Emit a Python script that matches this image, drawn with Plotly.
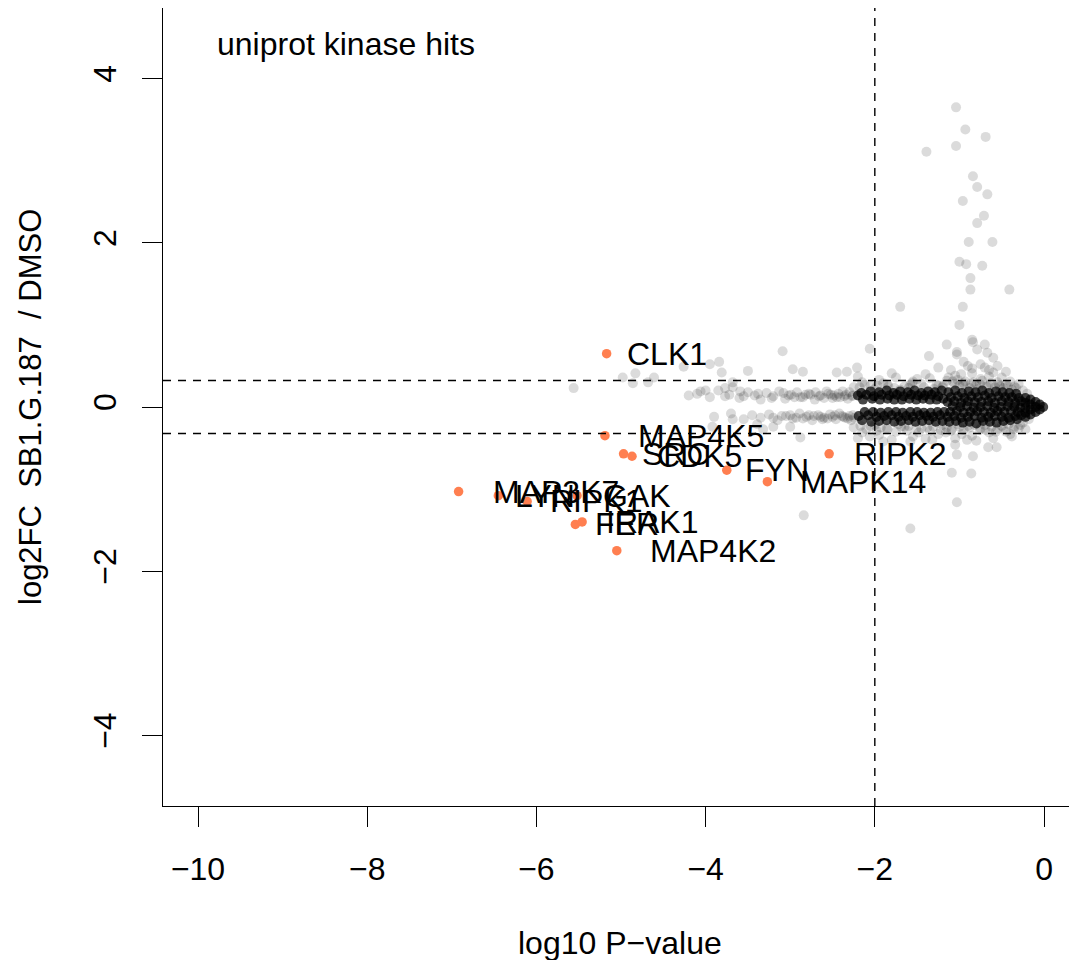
import plotly.graph_objects as go

# labelled kinase hits (orange)
hit_names = ["CLK1", "MAP4K5", "SRC", "CDK5", "FYN", "MAPK14", "RIPK2",
             "MAP3K7", "LYN", "RIPK1", "GAK", "FER", "IRAK1", "MAP4K2"]
hit_x = [-5.17, -5.19, -4.97, -4.87, -3.75, -3.27, -2.54,
         -6.92, -6.45, -6.11, -5.52, -5.54, -5.46, -5.05]
hit_y = [0.65, -0.35, -0.57, -0.60, -0.77, -0.91, -0.57,
         -1.03, -1.08, -1.15, -1.08, -1.43, -1.40, -1.75]
label_x = [-4.95, -4.82, -4.78, -4.60, -3.56, -2.91, -2.27,
           -6.54, -6.28, -5.86, -5.24, -5.33, -5.20, -4.68]

# all other proteins, sparse part (light grey)
grey_x = [
    # high fold change tail
    -1.04, -0.93, -0.69, -1.04, -1.39, -0.84, -0.79, -0.67, -0.96, -0.71, -0.79, -0.89,
    -0.61, -1.00, -0.92, -0.73, -0.87, -0.87, -0.41, -1.70, -0.96, -1.00, -0.85, -1.15,
    -1.03, -1.03, -0.84, -0.70, -0.79, -0.67, -0.60, -1.36, -2.06, -3.09,
    -0.95, -0.75, -0.55, -0.85, -0.65, -1.25, -0.45,
    # left, upper
    -5.56, -4.98, -4.83, -4.86, -4.68, -4.61, -4.26, -3.95, -3.84, -4.20, -4.06, -4.00,
    -3.81, -3.68, -3.77, -3.68, -3.59, -3.77, -3.50, -2.97, -2.85, -2.45, -2.33, -2.21,
    # left, lower
    -3.92, -3.68, -3.39, -3.32, -3.20, -3.00, -2.88,
    # lower right
    -2.06, -1.90, -1.58, -1.32, -1.05, -0.91, -0.66, -0.56, -0.38, -0.22, -1.03, -0.84,
    -1.09, -0.86, -1.03, -1.58, -2.84,
    # upper halo
    -2.25, -2.15, -2.05, -1.95, -1.85, -1.75, -1.65, -1.55, -1.45, -1.35, -1.25, -1.15,
    -1.05, -0.95, -0.85, -0.75, -0.65, -0.55, -0.45, -0.35, -0.25,
    -2.20, -2.00, -1.80, -1.60, -1.40, -1.20, -1.10, -1.00, -0.90, -0.80, -0.70, -0.60,
    -0.50, -0.40, -0.30,
    -1.90, -1.70, -1.50, -1.30, -1.08, -0.98, -0.88, -0.78, -0.68, -0.58, -0.48, -0.38,
    -2.12, -1.84, -1.56, -1.27, -1.13, -1.02, -0.93, -0.83, -0.73, -0.63, -0.53, -0.43,
    -2.18, -1.97, -1.77, -1.58, -1.42, -1.19, -1.06, -0.96, -0.86, -0.76, -0.66, -0.52,
    -0.33, -0.20,
    # lower halo
    -2.25, -2.15, -2.05, -1.95, -1.85, -1.75, -1.65, -1.55, -1.45, -1.35, -1.25, -1.15,
    -1.05, -0.95, -0.85, -0.75, -0.65, -0.55, -0.45, -0.35, -0.25,
    -2.20, -2.00, -1.80, -1.60, -1.40, -1.20, -1.10, -1.00, -0.90, -0.80, -0.70, -0.60,
    -0.50, -0.40, -0.30,
    -1.98, -1.72, -1.48, -1.22, -1.02, -0.82, -0.62, -0.42,
    -2.10, -1.86, -1.62, -1.38, -1.16, -0.97, -0.76, -0.57, -0.36,
    -2.17, -1.93, -1.69, -1.51, -1.31, -1.09, -0.88, -0.69, -0.48, -0.28, -0.18,
    # upper stream
    -4.10, -3.95, -3.85, -3.72, -3.60, -3.50, -3.42, -3.35, -3.28, -3.20, -3.13, -3.06,
    -2.99, -2.92, -2.85, -2.78, -2.71, -2.64, -2.57, -2.50, -2.43, -2.36, -2.30,
    -3.55, -3.38, -3.22, -3.08, -2.95, -2.82, -2.70, -2.60, -2.52, -2.45, -2.38, -2.32,
    -2.26,
    -3.02, -2.88, -2.76, -2.66, -2.55, -2.48, -2.41, -2.34, -2.27,
    # lower stream
    -3.90, -3.70, -3.55, -3.45, -3.35, -3.25, -3.15, -3.05, -2.97, -2.89, -2.81, -2.74,
    -2.67, -2.60, -2.53, -2.46, -2.39, -2.32, -2.26,
    -3.20, -3.00, -2.85, -2.72, -2.62, -2.50, -2.42, -2.35, -2.28,
    -3.10, -2.93, -2.78, -2.64, -2.56, -2.47, -2.37, -2.30, -2.24,
]
grey_y = [
    3.65, 3.38, 3.29, 3.18, 3.11, 2.81, 2.68, 2.59, 2.51, 2.33, 2.24, 2.01,
    2.01, 1.77, 1.74, 1.72, 1.57, 1.43, 1.43, 1.22, 1.22, 1.00, 0.82, 0.76,
    0.67, 0.64, 0.79, 0.76, 0.70, 0.66, 0.60, 0.62, 0.71, 0.68,
    0.55, 0.52, 0.50, 0.47, 0.45, 0.48, 0.43,
    0.23, 0.36, 0.41, 0.29, 0.30, 0.36, 0.49, 0.52, 0.55, 0.14, 0.19, 0.20,
    0.42, 0.30, 0.23, 0.24, 0.19, 0.13, 0.44, 0.46, 0.43, 0.42, 0.43, 0.48,
    -0.24, -0.15, -0.21, -0.27, -0.24, -0.24, -0.37,
    -0.36, -0.42, -0.42, -0.40, -0.46, -0.40, -0.49, -0.49, -0.36, -0.27, -0.58, -0.60,
    -0.80, -0.81, -1.16, -1.48, -1.32,
    0.24, 0.30, 0.26, 0.33, 0.27, 0.36, 0.25, 0.31, 0.28, 0.35, 0.26, 0.32,
    0.38, 0.29, 0.41, 0.34, 0.37, 0.30, 0.27, 0.25, 0.20,
    0.37, 0.22, 0.41, 0.23, 0.40, 0.24, 0.45, 0.26, 0.50, 0.27, 0.48, 0.42,
    0.36, 0.31, 0.28,
    0.29, 0.21, 0.34, 0.22, 0.31, 0.40, 0.23, 0.22, 0.25, 0.24, 0.23, 0.21,
    0.27, 0.25, 0.29, 0.27, 0.36, 0.33, 0.31, 0.30, 0.32, 0.29, 0.27, 0.26,
    0.24, 0.26, 0.23, 0.27, 0.24, 0.26, 0.28, 0.27, 0.29, 0.28, 0.26, 0.25,
    0.23, 0.16,
    -0.25, -0.31, -0.23, -0.34, -0.27, -0.30, -0.24, -0.36, -0.26, -0.29, -0.33, -0.25,
    -0.38, -0.28, -0.35, -0.26, -0.31, -0.27, -0.30, -0.24, -0.19,
    -0.38, -0.22, -0.40, -0.23, -0.39, -0.22, -0.29, -0.24, -0.23, -0.41, -0.22, -0.38,
    -0.23, -0.33, -0.26,
    -0.29, -0.21, -0.31, -0.28, -0.21, -0.22, -0.24, -0.21,
    -0.27, -0.26, -0.29, -0.25, -0.31, -0.33, -0.28, -0.30, -0.27,
    -0.23, -0.25, -0.24, -0.26, -0.24, -0.27, -0.25, -0.28, -0.25, -0.22, -0.15,
    0.16, 0.12, 0.20, 0.15, 0.11, 0.18, 0.14, 0.09, 0.17, 0.13, 0.19, 0.10,
    0.15, 0.18, 0.12, 0.16, 0.09, 0.14, 0.19, 0.11, 0.16, 0.13, 0.18,
    0.13, 0.16, 0.11, 0.17, 0.12, 0.15, 0.18, 0.11, 0.15, 0.12, 0.19, 0.10,
    0.14,
    0.14, 0.12, 0.15, 0.13, 0.16, 0.14, 0.12, 0.15, 0.13,
    -0.12, -0.08, -0.15, -0.10, -0.13, -0.09, -0.16, -0.11, -0.14, -0.08, -0.12, -0.16,
    -0.10, -0.13, -0.09, -0.15, -0.11, -0.14, -0.10,
    -0.13, -0.10, -0.14, -0.11, -0.15, -0.12, -0.08, -0.13, -0.16,
    -0.11, -0.13, -0.10, -0.12, -0.14, -0.10, -0.12, -0.11, -0.13,
]

# dense core of unchanged proteins (heavily overplotted)
core_x = [
    -2.16, -2.05, -1.95, -1.86, -1.78, -1.70, -1.61, -1.53, -1.45, -1.37, -1.29, -1.21,
    -2.20, -2.10, -2.01, -1.92, -1.83, -1.74, -1.66, -1.57, -1.49, -1.41, -1.33, -1.25,
    -2.14, -2.03, -1.94, -1.85, -1.77, -1.68, -1.59, -1.51, -1.43, -1.35, -1.27, -1.19,
    -2.12, -2.02, -1.93, -1.84, -1.75, -1.67, -1.58, -1.50, -1.42, -1.34, -1.26, -1.18,
    -2.19, -2.08, -1.98, -1.89, -1.80, -1.72, -1.63, -1.55, -1.47, -1.39, -1.31, -1.23,
    -2.15, -2.04, -1.95, -1.86, -1.77, -1.69, -1.60, -1.52, -1.44, -1.36, -1.28, -1.20,
    -1.13, -1.05, -0.97, -0.89, -0.81, -0.73, -0.65, -0.57, -0.49, -0.41, -0.33,
    -1.10, -1.02, -0.94, -0.86, -0.78, -0.70, -0.62, -0.54, -0.46, -0.38, -0.30,
    -1.14, -1.06, -0.98, -0.90, -0.82, -0.74, -0.66, -0.58, -0.50, -0.42, -0.34, -0.27,
    -1.08, -0.99, -0.91, -0.83, -0.75, -0.67, -0.59, -0.51, -0.43, -0.35, -0.28,
    -1.11, -1.03, -0.95, -0.87, -0.79, -0.71, -0.63, -0.55, -0.47, -0.39, -0.31,
    -1.14, -1.06, -0.98, -0.90, -0.82, -0.74, -0.66, -0.58, -0.50, -0.42, -0.34, -0.27,
    -1.12, -1.04, -0.96, -0.88, -0.80, -0.72, -0.64, -0.56, -0.48, -0.40, -0.32,
    -0.22, -0.22, -0.22, -0.22, -0.22, -0.16, -0.16, -0.16, -0.16,
    -0.10, -0.10, -0.10, -0.05, -0.05, -0.01,
]
core_y = [
    0.17, 0.19, 0.18, 0.20, 0.17, 0.19, 0.18, 0.20, 0.17, 0.19, 0.18, 0.20,
    0.14, 0.15, 0.13, 0.15, 0.14, 0.15, 0.13, 0.15, 0.14, 0.14, 0.15, 0.13,
    0.09, 0.10, 0.09, 0.10, 0.09, 0.09, 0.10, 0.09, 0.10, 0.09, 0.09, 0.10,
    -0.06, -0.06, -0.07, -0.06, -0.06, -0.07, -0.06, -0.06, -0.07, -0.07, -0.06, -0.06,
    -0.11, -0.10, -0.12, -0.11, -0.10, -0.12, -0.11, -0.12, -0.10, -0.11, -0.12, -0.10,
    -0.16, -0.18, -0.17, -0.16, -0.18, -0.17, -0.16, -0.18, -0.17, -0.16, -0.18, -0.17,
    0.18, 0.20, 0.17, 0.19, 0.18, 0.20, 0.17, 0.19, 0.18, 0.17, 0.16,
    0.12, 0.13, 0.11, 0.13, 0.12, 0.14, 0.11, 0.13, 0.12, 0.12, 0.11,
    0.06, 0.07, 0.05, 0.07, 0.06, 0.06, 0.07, 0.05, 0.07, 0.06, 0.05, 0.07,
    0.01, 0.00, 0.01, -0.01, 0.00, 0.01, -0.01, 0.00, 0.01, 0.00, -0.01,
    -0.06, -0.05, -0.07, -0.06, -0.05, -0.06, -0.07, -0.05, -0.06, -0.05, -0.06,
    -0.12, -0.11, -0.13, -0.12, -0.11, -0.13, -0.12, -0.11, -0.12, -0.13, -0.11, -0.10,
    -0.18, -0.17, -0.19, -0.18, -0.20, -0.17, -0.18, -0.19, -0.17, -0.16, -0.15,
    0.11, 0.05, -0.01, -0.07, -0.12, 0.09, 0.03, -0.03, -0.09,
    0.06, 0.00, -0.06, 0.03, -0.03, 0.00,
]

fc_cut = 0.3219   # log2(1.25)
p_cut = -2

font = "Liberation Sans, Arial, Helvetica, sans-serif"
txt = dict(size=32, color="black", family=font)

fig = go.Figure()
fig.add_trace(go.Scatter(x=grey_x, y=grey_y, mode="markers",
                         marker=dict(size=10, color="rgba(0,0,0,0.14)", line=dict(width=0)),
                         hoverinfo="skip"))
fig.add_trace(go.Scatter(x=core_x, y=core_y, mode="markers",
                         marker=dict(size=10, color="rgba(0,0,0,0.72)", line=dict(width=0)),
                         hoverinfo="skip"))
fig.add_trace(go.Scatter(x=hit_x, y=hit_y, mode="markers", text=hit_names,
                         marker=dict(size=9.5, color="#FF7F50", line=dict(width=0))))

for name, lx, y in zip(hit_names, label_x, hit_y):
    fig.add_annotation(x=lx, y=y, text=name, showarrow=False, xanchor="left",
                       yanchor="middle", font=txt)

# cut-off lines
dash = dict(color="black", width=1.4, dash="8px,7px")
fig.add_hline(y=fc_cut, line=dash)
fig.add_hline(y=-fc_cut, line=dash)
fig.add_vline(x=p_cut, line=dash)

fig.add_annotation(x=-9.80, y=4.42, text="uniprot kinase hits", showarrow=False,
                   xanchor="left", yanchor="middle", font=txt)
fig.add_annotation(x=0.5, y=0, xref="paper", yref="paper", yshift=-137, text="log10 P\u2212value",
                   showarrow=False, xanchor="center", yanchor="middle", font=txt)
fig.add_annotation(x=0, y=0.5, xref="paper", yref="paper", xshift=-133,
                   text="log2FC  SB1.G.187  / DMSO", textangle=-90, showarrow=False,
                   xanchor="center", yanchor="middle", font=dict(size=31, color="black", family=font))

axis_style = dict(showgrid=False, zeroline=False, showline=True, mirror=True,
                  linecolor="black", linewidth=1.4, ticks="outside", ticklen=20,
                  tickwidth=1.4, tickcolor="black",
                  tickfont=dict(size=32, color="black", family=font))
fig.update_xaxes(range=[-10.414, 0.378], tickvals=[-10, -8, -6, -4, -2, 0],
                 ticklabelstandoff=14, **axis_style)
fig.update_yaxes(range=[-4.86, 4.86], tickvals=[-4, -2, 0, 2, 4], tickangle=-90,
                 ticklabelstandoff=13, **axis_style)

# the page adds an 8px body margin, so the figure is 8px smaller
fig.update_layout(width=1069, height=952, showlegend=False,
                  plot_bgcolor="white", paper_bgcolor="white",
                  margin=dict(l=155, r=1, t=0, b=154))

fig.write_html("out.html")
